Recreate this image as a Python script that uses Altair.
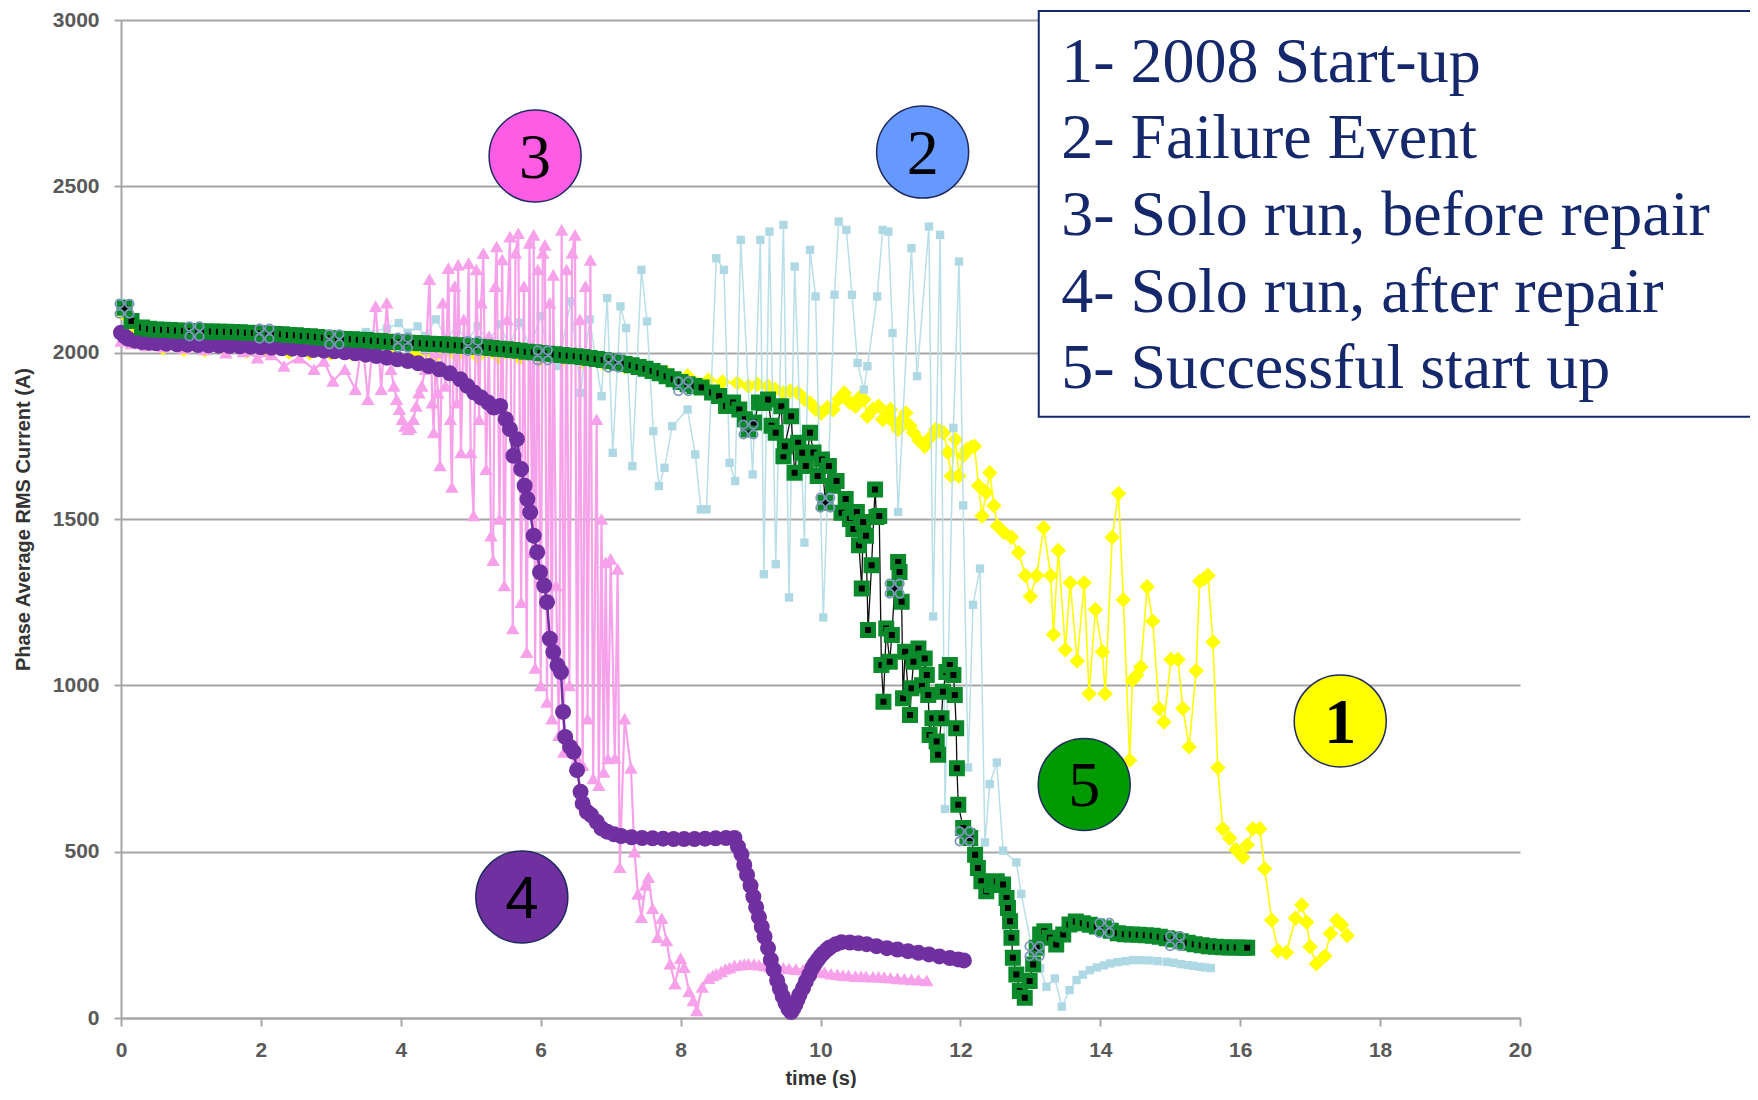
import altair as alt
import pandas as pd

# ---------------- series 1 : 2008 Start-up (yellow diamonds)
t1 = [0.02, 0.15, 0.35, 0.6, 0.9, 1.2, 1.5, 1.8, 2.1, 2.4, 2.7, 3.0, 3.3, 3.6, 3.9, 4.2, 4.5, 4.8,
      5.1, 5.4, 5.7, 6.0, 6.3, 6.6, 6.9, 7.2, 7.5, 7.8, 8.1, 8.4, 8.6, 8.81, 8.97, 9.1, 9.25, 9.35,
      9.47, 9.57, 9.68, 9.77, 9.85, 9.93, 10.01, 10.1, 10.18, 10.26, 10.34, 10.42, 10.5, 10.56,
      10.62, 10.67, 10.75, 10.83, 10.89, 10.95, 11.0, 11.05, 11.11, 11.17, 11.22, 11.28, 11.33,
      11.41, 11.49, 11.57, 11.65, 11.7, 11.76, 11.82, 11.87, 11.93, 11.98, 12.04, 12.09, 12.15,
      12.2, 12.26, 12.31, 12.37, 12.42, 12.48, 12.53, 12.62, 12.73, 12.83, 12.93, 13.0, 13.09,
      13.19, 13.29, 13.33, 13.4, 13.5, 13.57, 13.67, 13.77, 13.84, 13.93, 14.03, 14.07, 14.17,
      14.26, 14.33, 14.42, 14.46, 14.52, 14.58, 14.67, 14.75, 14.84, 14.91, 15.01, 15.11, 15.18,
      15.27, 15.37, 15.42, 15.48, 15.54, 15.61, 15.68, 15.75, 15.85, 15.94, 16.04, 16.1, 16.18,
      16.28, 16.35, 16.45, 16.54, 16.66, 16.79, 16.88, 16.95, 17.0, 17.09, 17.21, 17.29, 17.38,
      17.45, 17.53]
v1 = [2120, 2060, 2025, 2015, 2010, 2008, 2006, 2005, 2003, 2002, 2000, 1998, 1997, 1995, 1993,
      1992, 1990, 1990, 1988, 1986, 1984, 1981, 1977, 1972, 1966, 1958, 1950, 1940, 1930, 1918,
      1912, 1909, 1899, 1905, 1899, 1890, 1879, 1885, 1879, 1860, 1849, 1830, 1819, 1835, 1829,
      1860, 1879, 1850, 1839, 1865, 1859, 1809, 1830, 1839, 1799, 1815, 1829, 1790, 1769, 1800,
      1819, 1780, 1759, 1735, 1719, 1745, 1769, 1765, 1759, 1700, 1629, 1739, 1629, 1690, 1709,
      1715, 1719, 1600, 1509, 1580, 1639, 1540, 1479, 1460, 1445, 1399, 1330, 1267, 1330, 1474,
      1330, 1153, 1405, 1107, 1308, 1073, 1308, 975, 1228, 1101, 975, 1445, 1577, 1257, 775,
      1015, 1030, 1055, 1296, 1193, 930, 890, 1078, 1078, 930, 815, 1044, 1313, 1320, 1330, 1130,
      752, 569, 540, 506, 483, 520, 569, 569, 449, 294, 202, 197, 300, 340, 288, 214, 163, 186,
      254, 294, 280, 248]

# ---------------- series 2 : Failure Event (light blue squares)
t2 = [0.0, 0.1, 0.3, 0.6, 1.0, 1.5, 2.0, 2.5, 3.0, 3.5, 3.8, 3.97, 4.1, 4.24, 4.35, 4.5, 4.65,
      4.8, 4.95, 5.1, 5.25, 5.4, 5.55, 5.7, 5.85, 6.0, 6.1, 6.25, 6.43, 6.57, 6.7, 6.87, 6.95,
      7.03, 7.14, 7.22, 7.31, 7.44, 7.52, 7.61, 7.69, 7.77, 7.88, 8.1, 8.21, 8.29, 8.37, 8.51,
      8.62, 8.7, 8.78, 8.86, 9.03, 9.14, 9.19, 9.27, 9.36, 9.47, 9.55, 9.63, 9.77, 9.85, 9.93,
      10.04, 10.2, 10.26, 10.37, 10.45, 10.53, 10.62, 10.67, 10.81, 10.89, 10.97, 11.03, 11.11,
      11.3, 11.38, 11.55, 11.61, 11.71, 11.78, 11.9, 11.98, 12.04, 12.11, 12.18, 12.28, 12.35,
      12.42, 12.52, 12.61, 12.8, 12.87, 13.04, 13.14, 13.23, 13.35, 13.45, 13.56, 13.66, 13.75,
      13.85, 13.95, 14.05, 14.14, 14.25, 14.36, 14.47, 14.58, 14.7, 14.82, 14.95, 15.05, 15.15,
      15.25, 15.33, 15.42, 15.5, 15.58]
v2 = [2150, 2100, 2075, 2068, 2065, 2062, 2060, 2058, 2056, 2062, 2072, 2089, 2060, 2079, 2050,
      2100, 2045, 2075, 2035, 2080, 2030, 2085, 2025, 2090, 2015, 2110, 2000, 1960, 2154, 1879,
      2100, 1869, 2164, 1699, 2139, 2074, 1659, 2249, 2094, 1764, 1599, 1654, 1779, 1829, 1694,
      1529, 1529, 2284, 2249, 1669, 1614, 2339, 1634, 2339, 1334, 2364, 1364, 2384, 1264, 2259,
      1429, 2309, 2169, 1204, 2174, 2394, 2369, 2174, 1969, 1889, 1959, 2169, 2369, 2364, 2059,
      1521, 2314, 1929, 2379, 1207, 2354, 628, 1774, 2274, 1541, 753, 1242, 1351, 528, 703, 768,
      503, 468, 373, 189, 150, 94, 119, 34, 84, 114, 130, 144, 152, 158, 164, 168, 171, 174, 174,
      173, 171, 169, 166, 162, 159, 157, 154, 152, 150]

# ---------------- series 3 : Solo run, before repair (pink triangles)
t3_start = [0.0, 0.15, 0.35, 0.6, 0.9, 1.2, 1.5, 1.75, 1.95, 2.15, 2.33, 2.55, 2.76, 2.9, 3.03,
            3.2, 3.35, 3.45, 3.53, 3.64, 3.72, 3.8]
v3_start = [2035, 2028, 2022, 2018, 2014, 2010, 2000, 2004, 1985, 1995, 1960, 1985, 1950, 1975,
            1915, 1950, 1890, 2040, 1860, 2140, 1890, 2150]
t3_dip = [3.86, 3.9, 3.94, 3.98, 4.02, 4.06, 4.1, 4.14, 4.18, 4.22, 4.26, 4.3, 4.35]
v3_dip = [1950, 1900, 1860, 1830, 1800, 1780, 1770, 1775, 1800, 1840, 1880, 1900, 1950]
t3_osc = [4.41, 4.45, 4.47, 4.5, 4.53, 4.56, 4.6, 4.64, 4.68, 4.71,
          4.73, 4.77, 4.8, 4.82, 4.86, 4.9, 4.94, 4.97, 5.0, 5.04,
          5.08, 5.12, 5.15, 5.18, 5.22, 5.26, 5.29, 5.32, 5.35, 5.37,
          5.41, 5.45, 5.48, 5.52, 5.56, 5.6, 5.64, 5.68, 5.72, 5.76,
          5.8, 5.84, 5.88, 5.9, 5.92, 5.96, 6.0, 6.03, 6.06, 6.09,
          6.13, 6.16, 6.18, 6.22, 6.26, 6.3, 6.33, 6.37, 6.41, 6.45,
          6.49, 6.52, 6.56, 6.6, 6.64, 6.67, 6.71, 6.75, 6.8, 6.83,
          6.87, 6.9, 6.93, 6.96, 7.0, 7.06, 7.1, 7.13]
v3_osc = [2221, 1850, 1760, 2000, 1880, 1661, 2150, 1900, 2254, 1800,
          1596, 2200, 1850, 2264, 1700, 2100, 1900, 2269, 1700, 1511,
          2250, 1800, 2150, 2299, 1650, 2050, 1450, 1376, 2200, 2319,
          1500, 2280, 1300, 2100, 2349, 1171, 2300, 2359, 1250, 2200,
          1100, 2330, 1400, 2354, 1052, 2250, 1000, 2300, 2324, 950,
          2150, 900, 2234, 1300, 850, 2369, 800, 2250, 1000, 2300,
          2354, 780, 2100, 760, 2200, 900, 2279, 720, 1800, 700,
          1500, 740, 1370, 780, 1380, 782, 1350, 453]
t3_tail = [7.2, 7.29, 7.34, 7.39, 7.44, 7.5, 7.54, 7.6, 7.67, 7.73, 7.8,
           7.85, 7.92, 8.0, 8.05, 8.12, 8.18, 8.23, 8.31, 8.4, 8.46, 8.51, 8.58, 8.64, 8.7,
           8.77, 8.85, 8.91, 8.97, 9.05, 9.12, 9.2, 9.28, 9.38, 9.47, 9.55, 9.65, 9.75, 9.82, 9.89,
           9.98, 10.06, 10.15, 10.24, 10.32, 10.4, 10.5, 10.58, 10.65, 10.75, 10.83, 10.91, 11.0,
           11.1, 11.2, 11.3, 11.4, 11.52]
v3_tail = [900, 752, 500, 373, 303, 400, 423, 330, 243, 300, 233,
           163, 103, 180, 153, 80, 53, 23, 93, 120, 128, 133, 140, 148, 152,
           158, 160, 162, 163, 162, 160, 158, 155, 153, 151, 149, 147, 145, 144, 143,
           140, 137, 133, 131, 129, 128, 126, 126, 125, 124, 124, 123, 121,
           119, 118, 116, 115, 113]
t3 = t3_start + t3_dip + t3_osc + t3_tail
v3 = v3_start + v3_dip + v3_osc + v3_tail

# ---------------- series 4 : Solo run, after repair (purple circles)
t4 = [0.0, 0.05, 0.1, 0.2, 0.3, 0.4, 0.5, 0.65, 0.8, 0.95, 1.1, 1.25, 1.4, 1.55, 1.7, 1.85, 2.0,
      2.15, 2.3, 2.45, 2.6, 2.75, 2.9, 3.05, 3.2, 3.35, 3.5, 3.65, 3.8, 3.95, 4.1, 4.25, 4.4,
      4.55, 4.7, 4.85, 4.95, 5.05, 5.15, 5.25, 5.33, 5.42, 5.5, 5.56, 5.61, 5.66, 5.72, 5.77,
      5.81, 5.85, 5.9, 5.95, 5.99, 6.05, 6.09, 6.13, 6.18, 6.24, 6.29, 6.32, 6.35, 6.42, 6.47,
      6.52, 6.57, 6.6, 6.66, 6.72, 6.8, 6.87, 6.95, 7.05, 7.15, 7.3, 7.45, 7.6, 7.75, 7.9, 8.05,
      8.2, 8.35, 8.5, 8.65, 8.77, 8.82, 8.87, 8.91, 8.95, 9.0, 9.04, 9.08, 9.12, 9.16, 9.2, 9.25,
      9.29, 9.33, 9.38, 9.42, 9.46, 9.5, 9.54, 9.58, 9.61, 9.64, 9.67, 9.7, 9.75, 9.79, 9.84,
      9.88, 9.92, 9.96, 10.0, 10.04, 10.09, 10.13, 10.22, 10.3, 10.42, 10.54, 10.66, 10.8, 10.95,
      11.1, 11.25, 11.4, 11.55, 11.7, 11.85, 11.97, 12.05]
v4 = [2060, 2050, 2042, 2036, 2032, 2030, 2028, 2027, 2025, 2024, 2023, 2022, 2021, 2020, 2019,
      2018, 2016, 2015, 2013, 2012, 2010, 2008, 2006, 2004, 2001, 1998, 1994, 1990, 1985, 1980,
      1975, 1968, 1960, 1950, 1938, 1920, 1900, 1880, 1865, 1850, 1835, 1840, 1800, 1770, 1690,
      1740, 1650, 1600, 1560, 1520, 1450, 1400, 1340, 1300, 1250, 1140, 1100, 1060, 1040, 920,
      845, 815, 800, 745, 680, 645, 620, 610, 590, 570, 560, 552, 547, 543, 541, 540, 539, 538,
      538, 538, 539, 540, 541, 541, 515, 492, 460, 430, 398, 365, 333, 303, 274, 245, 210, 175,
      145, 113, 88, 65, 45, 28, 18, 28, 40, 55, 70, 90, 110, 130, 150, 163, 175, 186, 195, 205,
      212, 222, 228, 227, 225, 222, 216, 210, 206, 201, 196, 191, 185, 180, 176, 173]

# ---------------- series 5 : Successful start up (black squares, green edge)
t5 = [0.05, 0.15, 0.3, 0.4, 0.5, 0.6, 0.7, 0.8, 0.9, 1.0, 1.1, 1.2, 1.3, 1.4, 1.5, 1.6, 1.7,
      1.8, 1.9, 2.0, 2.1, 2.2, 2.3, 2.4, 2.5, 2.6, 2.7, 2.8, 2.9, 3.0, 3.1, 3.2, 3.3, 3.4, 3.5,
      3.6, 3.7, 3.8, 3.9, 4.0, 4.1, 4.2, 4.3, 4.4, 4.5, 4.6, 4.7, 4.8, 4.9, 5.0, 5.1, 5.2, 5.3,
      5.4, 5.5, 5.6, 5.7, 5.8, 5.9, 6.0, 6.1, 6.2, 6.3, 6.4, 6.5, 6.6, 6.7, 6.8, 6.9, 7.0, 7.1,
      7.2, 7.3, 7.4, 7.5, 7.6, 7.7, 7.8, 7.9, 8.0, 8.1, 8.2, 8.3, 8.45, 8.55, 8.65, 8.75, 8.84,
      8.92, 8.97, 9.05, 9.12, 9.19, 9.25, 9.3, 9.36, 9.44, 9.47, 9.49, 9.58, 9.63, 9.68, 9.74,
      9.79, 9.85, 9.9, 9.96, 10.02, 10.07, 10.12, 10.18, 10.23, 10.3, 10.36, 10.42, 10.47,
      10.52, 10.55, 10.59, 10.61, 10.65, 10.68, 10.73, 10.78, 10.8, 10.84, 10.87, 10.9, 10.94,
      10.99, 11.02, 11.06, 11.11, 11.13, 11.16, 11.18, 11.21, 11.28, 11.3, 11.33, 11.4, 11.45,
      11.49, 11.52, 11.54, 11.56, 11.6, 11.66, 11.68, 11.73, 11.75, 11.8, 11.85, 11.9, 11.92,
      11.94, 11.95, 11.97, 12.04, 12.1, 12.14, 12.21, 12.25, 12.3, 12.37, 12.45, 12.52, 12.61,
      12.66, 12.68, 12.71, 12.73, 12.75, 12.8, 12.85, 12.92, 12.99, 13.04, 13.09, 13.14, 13.2,
      13.28, 13.37, 13.47, 13.56, 13.65, 13.75, 13.85, 13.95, 14.05, 14.15, 14.25, 14.35, 14.45,
      14.55, 14.65, 14.75, 14.85, 14.95, 15.05, 15.15, 15.25, 15.35, 15.45, 15.55, 15.65, 15.75,
      15.85, 15.95, 16.05, 16.1]
v5 = [2135, 2095, 2076, 2072, 2070, 2069, 2068, 2067, 2066, 2065, 2065, 2064, 2064, 2063, 2063,
      2062, 2061, 2060, 2059, 2058, 2057, 2056, 2055, 2053, 2052, 2050, 2049, 2047, 2045, 2043,
      2042, 2041, 2040, 2039, 2038, 2036, 2035, 2033, 2032, 2031, 2030, 2029, 2028, 2027, 2026,
      2025, 2024, 2022, 2021, 2020, 2018, 2016, 2014, 2012, 2010, 2008, 2006, 2003, 2001, 1999,
      1997, 1995, 1993, 1991, 1989, 1987, 1984, 1981, 1978, 1974, 1970, 1966, 1962, 1957, 1952,
      1945, 1938, 1929, 1920, 1912, 1905, 1900, 1895, 1880, 1870, 1840, 1850, 1829, 1800, 1769,
      1790, 1850, 1849, 1859, 1780, 1759, 1839, 1689, 1719, 1809, 1639, 1729, 1699, 1659, 1759,
      1700, 1629, 1679, 1549, 1659, 1600, 1614, 1519, 1560, 1500, 1470, 1521, 1421, 1291, 1491,
      1450, 1166, 1361, 1589, 1506, 1509, 1061, 951, 1171, 1071, 1151, 1291, 1371, 1341, 1251,
      961, 1101, 911, 991, 1071, 1111, 1000, 1081, 1031, 971, 851, 901, 831, 791, 901, 981, 1040,
      1061, 1031, 971, 871, 751, 641, 571, 546, 541, 491, 451, 411, 381, 400, 411, 401, 361, 331,
      291, 241, 181, 131, 81, 61, 111, 161, 211, 251, 261, 241, 221, 251, 281, 290, 285, 280,
      275, 270, 262, 255, 252, 251, 250, 249, 247, 244, 240, 236, 231, 226, 222, 219, 216, 214,
      213, 212, 212, 211, 211]

# sparse ring markers sitting on series 5
tm = [0.05, 1.05, 2.05, 3.05, 4.03, 5.03, 6.03, 7.04, 8.04, 8.97, 10.07, 11.06, 12.06, 13.06,
      14.06, 15.07]
vm = [2132, 2064, 2057, 2040, 2030, 2020, 1992, 1970, 1899, 1769, 1549, 1291, 546, 201, 271, 231]

# circled series numbers
num_label = ["1", "2", "3", "4", "5"]
num_t = [17.43, 11.46, 5.92, 5.73, 13.77]
num_v = [893, 2603, 2591, 364, 702]
num_fill = ["#ffff00", "#6699ff", "#ff5ce5", "#7030a0", "#009900"]

# legend box text
legend_text = ["1- 2008 Start-up", "2- Failure Event", "3- Solo run, before repair",
               "4- Solo run, after repair", "5- Successful start up"]
legend_t = [13.44, 13.44, 13.44, 13.44, 13.44]
legend_v = [2814, 2585, 2354, 2122, 1894]
box_t, box_t2, box_v, box_v2 = [13.12], [24.0], [3027], [1807]

x_ticks = [0, 2, 4, 6, 8, 10, 12, 14, 16, 18, 20]
y_ticks = [0, 500, 1000, 1500, 2000, 2500, 3000]

GRID = "#a6a6a6"
NAVY = "#14286b"
YEL = "#ffff00"
LBLUE = "#aed8e4"
PINK = "#f7a1ea"
PURP = "#7030a0"
GREEN = "#0b8a2b"


def frame(t, v):
    return pd.DataFrame({"t": t, "v": v, "i": list(range(len(t)))})


xscale = alt.Scale(domain=[0, 20], nice=False, zero=False)
yscale = alt.Scale(domain=[0, 3000], nice=False)
xaxis = alt.Axis(values=x_ticks, grid=False, domainColor=GRID, domainWidth=2,
                 tickColor=GRID, tickWidth=2, tickSize=8, labelFont="Liberation Sans",
                 labelFontWeight="bold", labelFontSize=21, labelColor="#595959",
                 labelPadding=13, labelFlush=False, format="d", title="time (s)",
                 titleFont="Liberation Sans", titleFontSize=20, titleFontWeight="bold",
                 titleColor="#333333", titleX=699.5, titleY=66, titleBaseline="alphabetic")
yaxis = alt.Axis(values=y_ticks, grid=True, gridColor=GRID, gridWidth=2, domainColor=GRID,
                 domainWidth=2, tickColor=GRID, tickWidth=2, tickSize=7,
                 labelFont="Liberation Sans", labelFontWeight="bold", labelFontSize=21,
                 labelColor="#595959", labelPadding=15, labelFlush=False, format="d",
                 title="Phase Average RMS Current (A)", titleFont="Liberation Sans",
                 titleFontSize=20, titleFontWeight="bold", titleColor="#333333",
                 titleX=-92, titleY=499, titleBaseline="alphabetic", titleAlign="center")

X = alt.X("t:Q", scale=xscale, axis=xaxis)
Y = alt.Y("v:Q", scale=yscale, axis=yaxis)


def line(df, color, width):
    return alt.Chart(df).mark_line(color=color, strokeWidth=width).encode(x=X, y=Y, order="i:Q")


d1, d2, d3, d4, d5 = frame(t1, v1), frame(t2, v2), frame(t3, v3), frame(t4, v4), frame(t5, v5)

layers = [
    line(d1, YEL, 1.6),
    alt.Chart(d1).mark_point(shape="diamond", filled=True, fill=YEL, size=240, opacity=1,
                             strokeWidth=0).encode(x=X, y=Y),
    line(d2, "#b9dfe9", 1.5),
    alt.Chart(d2).mark_point(shape="square", filled=True, fill=LBLUE, size=70, opacity=1,
                             strokeWidth=0).encode(x=X, y=Y),
    line(d3, PINK, 2.2),
    alt.Chart(d3).mark_point(shape="triangle-up", filled=True, fill=PINK, size=180, opacity=1,
                             strokeWidth=0).encode(x=X, y=Y),
    line(d4, PURP, 2.5),
    alt.Chart(d4).mark_point(shape="circle", filled=True, fill=PURP, size=256, opacity=1,
                             strokeWidth=0).encode(x=X, y=Y),
    line(d5, "#111111", 1.3),
    alt.Chart(d5).mark_point(shape="square", filled=True, fill="black", stroke=GREEN,
                             strokeWidth=5, size=121, opacity=1).encode(x=X, y=Y),
]

ring_path = ("M -0.92,-0.5 A 0.42,0.42 0 1,1 -0.08,-0.5 A 0.42,0.42 0 1,1 -0.92,-0.5 Z "
             "M 0.08,-0.5 A 0.42,0.42 0 1,1 0.92,-0.5 A 0.42,0.42 0 1,1 0.08,-0.5 Z "
             "M -0.92,0.5 A 0.42,0.42 0 1,1 -0.08,0.5 A 0.42,0.42 0 1,1 -0.92,0.5 Z "
             "M 0.08,0.5 A 0.42,0.42 0 1,1 0.92,0.5 A 0.42,0.42 0 1,1 0.08,0.5 Z")
layers.append(alt.Chart(frame(tm, vm)).mark_point(shape=ring_path, filled=False,
                                                  stroke="#7d98bd", strokeWidth=1.8,
                                                  size=400, opacity=1).encode(x=X, y=Y))

nums = pd.DataFrame({"t": num_t, "v": num_v, "label": num_label, "fill": num_fill})
layers.append(alt.Chart(nums).mark_point(shape="circle", filled=True, size=8464, opacity=1,
                                         stroke="#1f2a5e", strokeWidth=1.5).encode(
    x=X, y=Y, color=alt.Color("fill:N", scale=None)))
layers.append(alt.Chart(nums).transform_filter("datum.label == '2' || datum.label == '3' || datum.label == '5'")
              .mark_text(font="Liberation Serif", fontSize=64, baseline="alphabetic", dy=22,
                         align="center", color="black").encode(x=X, y=Y, text="label:N"))
layers.append(alt.Chart(nums).transform_filter("datum.label == '1'")
              .mark_text(font="Liberation Serif", fontSize=64, fontWeight="bold",
                         baseline="alphabetic", dy=22, align="center", color="black")
              .encode(x=X, y=Y, text="label:N"))
layers.append(alt.Chart(nums).transform_filter("datum.label == '4'")
              .mark_text(font="Liberation Sans", fontSize=60, baseline="alphabetic", dy=21,
                         align="center", color="black").encode(x=X, y=Y, text="label:N"))

box = pd.DataFrame({"t": box_t, "t2": box_t2, "v": box_v, "v2": box_v2})
layers.append(alt.Chart(box).mark_rect(fill="white", stroke=NAVY, strokeWidth=2).encode(
    x=X, x2="t2:Q", y=Y, y2="v2:Q"))
leg = pd.DataFrame({"t": legend_t, "v": legend_v, "label": legend_text})
layers.append(alt.Chart(leg).mark_text(font="Liberation Serif", fontSize=64, align="left",
                                       baseline="alphabetic", color=NAVY).encode(
    x=X, y=Y, text="label:N"))

chart = alt.layer(*layers).properties(
    width=1399, height=998,
    autosize=alt.AutoSizeParams(type="none"),
    padding={"left": 113, "top": 12, "right": 230, "bottom": 70},
).configure_view(stroke=None)

chart.save("out.html", embed_options={"renderer": "svg", "actions": False})
